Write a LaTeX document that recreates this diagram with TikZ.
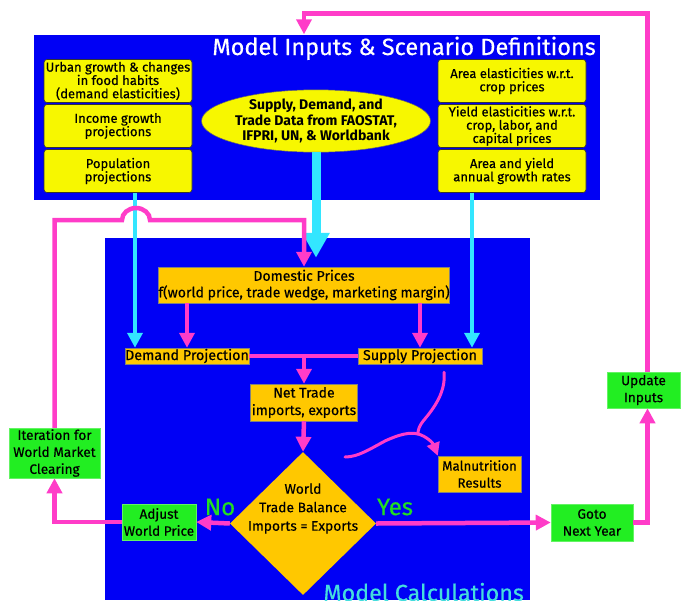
\documentclass[tikz,border=0pt]{standalone}
\usepackage{fontspec}
\setmainfont{Fira Sans}[UprightFeatures={FakeBold=0.4}]
\usetikzlibrary{shapes.geometric,arrows.meta}
\definecolor{bluebg}{HTML}{0000F5}
\definecolor{pinkc}{HTML}{FF3CC8}
\definecolor{cyanc}{HTML}{33E6FF}
\definecolor{yelc}{HTML}{F7F700}
\definecolor{orac}{HTML}{FFC800}
\definecolor{grnc}{HTML}{22EE22}
\definecolor{grntxt}{HTML}{22DD22}
\definecolor{calctxt}{HTML}{44DDDD}
\begin{document}
\begin{tikzpicture}[x=1pt,y=-1pt,
  bg/.style={fill=bluebg,draw=none,inner sep=0},
  ybox/.style={draw=black!80,fill=yelc,rounded corners=3pt,line width=0.6pt,minimum width=148pt,minimum height=43pt,align=center,inner sep=0,font=\fontsize{13}{13.3}\selectfont},
  obox/.style={draw=black!50,fill=orac,line width=0.5pt,align=center,inner sep=0,font=\fontsize{14.1}{16.5}\selectfont},
  gbox/.style={draw=grnc!70!white,fill=grnc,line width=0.5pt,align=center,inner sep=0,font=\fontsize{13.6}{17}\selectfont},
  pinkline/.style={draw=pinkc,line width=4.5pt},
  pinkarr/.style={pinkline,-{Triangle[length=15pt,width=15pt]}},
  cyanarr/.style={draw=cyanc,line width=4pt,-{Triangle[length=15pt,width=15pt]}},
  cyanbig/.style={draw=cyanc,line width=9pt,-{Triangle[length=25pt,width=26pt]}},
  lbl/.style={inner sep=0,align=center}]
\useasboundingbox (0,0) rectangle (682,600);
% backgrounds
\node[bg,minimum width=566pt,minimum height=165pt] (inbox) at (317,117) {};
\node[bg,minimum width=425pt,minimum height=362pt] (calcbox) at (317.5,419) {};
\node[lbl,anchor=base east,text=white,font=\fontsize{23.5}{23.5}\selectfont] (t1) at (596,55) {Model Inputs \& Scenario Definitions};
\node[lbl,anchor=base east,text=calctxt,font=\fontsize{23.3}{23.3}\selectfont] (t2) at (524,601) {Model Calculations};
% input boxes
\node[ybox] (lb1) at (118,81) {Urban growth \& changes\\in food habits\\(demand elasticities)};
\node[ybox] (lb2) at (118,126) {Income growth\\projections};
\node[ybox] (lb3) at (118,171) {Population\\projections};
\node[ybox] (rb1) at (512,81) {Area elasticities w.r.t.\\crop prices};
\node[ybox] (rb2) at (512,126) {Yield elasticities w.r.t.\\crop, labor, and\\capital prices};
\node[ybox] (rb3) at (512,171) {Area and yield\\annual growth rates};
\node[ellipse,draw=black!60,fill=yelc,line width=0.5pt,minimum width=224pt,minimum height=62pt,inner sep=0,align=center,font=\bfseries\fontsize{14}{15.5}\selectfont] (ell) at (316,121) {Supply, Demand, and\\Trade Data from FAOSTAT,\\IFPRI, UN, \& Worldbank};
% calculation boxes
\node[obox,minimum width=290pt,minimum height=36pt] (dom) at (304,285) {Domestic Prices\\f(world price, trade wedge, marketing margin)};
\node[obox,minimum width=124pt,minimum height=16pt,font=\fontsize{14.3}{14}\selectfont] (dem) at (187,356) {Demand Projection};
\node[obox,minimum width=124pt,minimum height=16pt,font=\fontsize{14.3}{14}\selectfont] (sup) at (420,356) {Supply Projection};
\node[obox,minimum width=107pt,minimum height=37pt,font=\fontsize{14}{17.5}\selectfont] (net) at (304,402.5) {Net Trade\\imports, exports};
\node[obox,minimum width=83pt,minimum height=36pt,font=\fontsize{13.3}{17}\selectfont] (mal) at (479.5,474) {Malnutrition\\Results};
\node[diamond,fill=orac,draw=none,minimum width=146pt,minimum height=143pt,inner sep=0] (dia) at (303,523.5) {};
\node[lbl,font=\fontsize{13.8}{18.5}\selectfont] (dialbl) at ([yshift=15pt]dia.center) {World\\Trade Balance\\Imports = Exports};
% green boxes
\node[gbox,minimum width=74pt,minimum height=36pt] (adj) at (159,522) {Adjust\\World Price};
\node[gbox,minimum width=91pt,minimum height=50pt] (iter) at (54.5,453) {Iteration for\\World Market\\Clearing};
\node[gbox,minimum width=82pt,minimum height=37pt] (goto) at (592,522.5) {Goto\\Next Year};
\node[gbox,minimum width=73pt,minimum height=36pt] (upd) at (643.5,390) {Update\\Inputs};
\node[lbl,text=grntxt,font=\fontsize{24}{24}\selectfont] (no) at (220,507) {No};
\node[lbl,text=grntxt,font=\fontsize{24}{24}\selectfont] (yes) at (395,507) {Yes};
% cyan connectors
\draw[cyanbig,shorten >=9pt] (ell.south) -- (ell.south |- dom.north);
\draw[cyanarr] ([xshift=17pt]lb3.south) -- ([xshift=17pt]lb3.south |- dem.north);
\draw[cyanarr] ([xshift=-40pt]rb3.south) -- ([xshift=-40pt]rb3.south |- sup.north);
% pink connectors
\coordinate (hopy) at (0,220);
\coordinate (topin) at (dom.north |- inbox.north);
\draw[pinkarr] (iter.north) |- (122,220) arc[start angle=180,end angle=0,x radius=14pt,y radius=12pt] -- (dom.north |- hopy) -- (dom.north);
\draw[pinkarr] (dom.south -| dem.north) -- (dem.north);
\draw[pinkarr] (dom.south -| sup.north) -- (sup.north);
\draw[pinkline] (dem.east) -- (sup.west);
\draw[pinkarr] (net.north |- dem.east) -- (net.north);
\draw[pinkarr] (net.south) -- (dia.north);
\draw[pinkarr] (dia.east) -- (goto.west);
\draw[pinkarr] (dia.west) -- (adj.east);
\draw[pinkarr] (adj.west) -| (iter.south);
\draw[pinkarr] (goto.east) -| ([xshift=4pt]upd.south);
\draw[pinkarr] ([xshift=4pt]upd.north) |- ([yshift=21pt]topin) -- (topin);
% malnutrition brace
\coordinate (bs) at ([xshift=24pt,yshift=-8pt]sup.south);
\coordinate (bj) at (418,434);
\coordinate (bl) at (345,457);
\draw[draw=pinkc,line width=3pt,line cap=round] (bs) .. controls (446,392) and (434,408) .. (424,420) .. controls (419,426) and (418,430) .. (bj);
\draw[draw=pinkc,line width=3pt,line cap=round] (bj) .. controls (410,432) and (400,434) .. (385,441) .. controls (370,449) and (358,457) .. (bl);
\draw[draw=pinkc,line width=3pt,-{Triangle[length=13pt,width=13pt]}] (bj) .. controls (426,436) and (433,443) .. (mal.north west);
\end{tikzpicture}
\end{document}
